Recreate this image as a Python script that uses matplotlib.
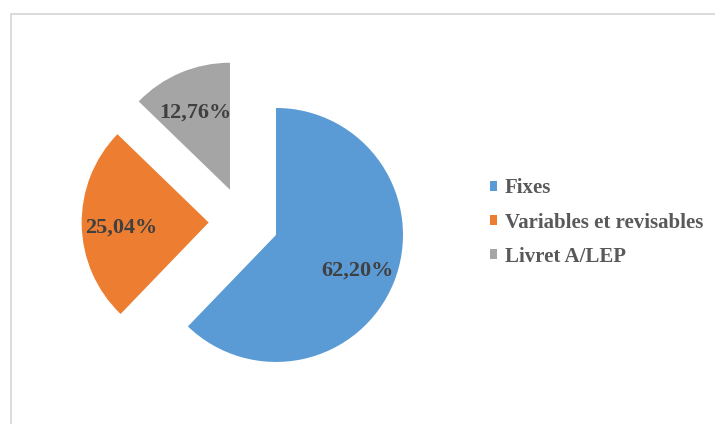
import matplotlib
matplotlib.use("Agg")
import matplotlib.pyplot as plt
from matplotlib.patches import Rectangle

# Répartition des encours par type de taux
categories = ["Fixes", "Variables et revisables", "Livret A/LEP"]
shares = [62.20, 25.04, 12.76]
colors = ["#5B9BD5", "#ED7D31", "#A5A5A5"]

W, H = 715, 424
fig = plt.figure(figsize=(W / 100, H / 100), dpi=100)
ax = fig.add_axes([0, 0, 1, 1])

serif = ["Liberation Serif", "DejaVu Serif"]

wedges, texts, autotexts = ax.pie(
    shares,
    colors=colors,
    startangle=90,
    counterclock=False,
    explode=[0.275] * len(shares),
    autopct=lambda p: f"{p:.2f}%".replace(".", ","),
    pctdistance=0.69,
    textprops=dict(family=serif, fontsize=16, fontweight="bold", color="#404040"),
)
# nudge the labels slightly to sit like Office-style data labels
for t in autotexts:
    x, y = t.get_position()
    t.set_position((x, y - 0.025))

# pie radius = 127 px, centre at (243.6, 221.9) px from top-left
r_px = 127.0
cx, cy = 243.6, H - 221.9
ax.set_xlim(-cx / r_px, (W - cx) / r_px)
ax.set_ylim(-cy / r_px, (H - cy) / r_px)
ax.set_aspect("auto")
ax.set_axis_off()

# chart-area frame (top and left edges visible)
fig.patches.append(Rectangle((10.5 / W, -0.1), 1.2, (H - 14) / H + 0.1,
                             transform=fig.transFigure, fill=False,
                             edgecolor="#D9D9D9", linewidth=1.3, clip_on=False))

fig.legend(
    wedges, categories,
    loc="center left", bbox_to_anchor=(489.5 / W, 1 - 222.5 / H),
    frameon=False, borderaxespad=0, borderpad=0,
    handlelength=0.34, handleheight=0.34, handletextpad=0.4,
    labelspacing=0.68,
    prop=dict(family=serif, size=15, weight="bold"),
    labelcolor="#595959",
)

fig.savefig("out.png", dpi=100)
